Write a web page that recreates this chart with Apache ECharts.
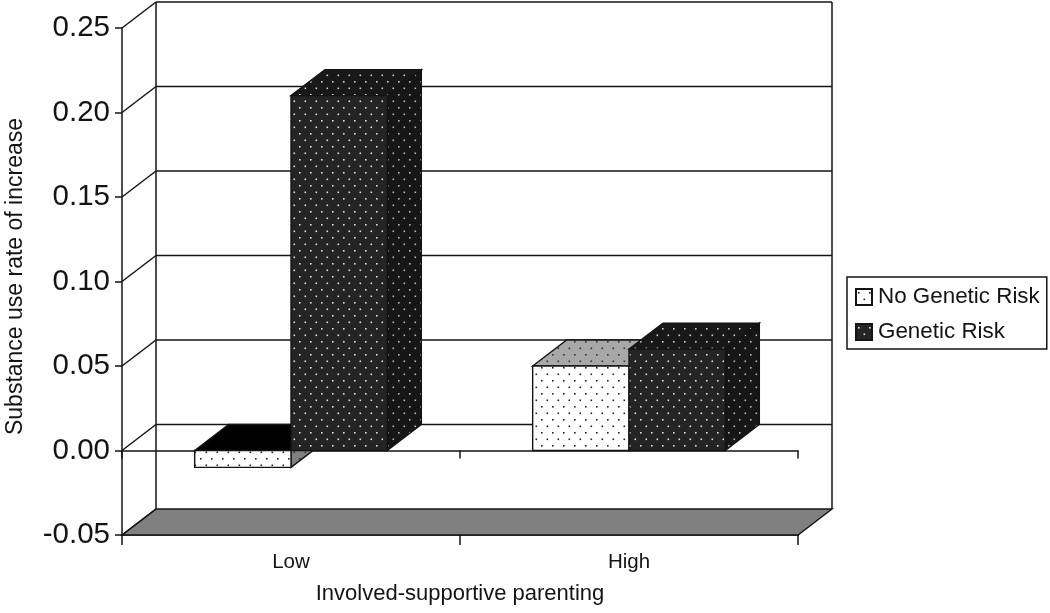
<!DOCTYPE html>
<html>
<head>
<meta charset="utf-8">
<style>html,body{margin:0;padding:0;background:#fff}#c{width:1050px;height:613px}</style>
<script src="https://cdn.jsdelivr.net/npm/echarts@6/dist/echarts.min.js"></script>
</head>
<body>
<div id="c"></div>
<script>
var categories = ['Low', 'High'];
var noGeneticRisk = [-0.01, 0.05];
var geneticRisk = [0.21, 0.06];
var yTicks = [-0.05, 0, 0.05, 0.10, 0.15, 0.20, 0.25];
var xTitle = 'Involved-supportive parenting';
var yTitle = 'Substance use rate of increase';
var FONT = '"Liberation Sans", Arial, sans-serif';
var INK = '#141414';
var DX = 34, DY = -26;

function dots(bg, dot) {
  var c = document.createElement('canvas');
  c.width = 11; c.height = 13;
  var g = c.getContext('2d');
  g.fillStyle = bg; g.fillRect(0, 0, 11, 13);
  g.fillStyle = dot;
  g.fillRect(2, 3, 1.6, 1.6);
  g.fillRect(7.5, 9.5, 1.6, 1.6);
  return { image: c, repeat: 'repeat' };
}
function poly(pts, fill, stroke) {
  return { type: 'polygon', shape: { points: pts },
    style: { fill: fill, stroke: stroke || INK, lineWidth: 1.4 } };
}
function line(x1, y1, x2, y2) {
  return { type: 'line', shape: { x1: x1, y1: y1, x2: x2, y2: y2 },
    style: { stroke: INK, lineWidth: 1.5, fill: null } };
}

var skins = {
  none: {
    front: dots('#ffffff', '#222222'),
    top: dots('#a8a8a8', '#333333'), topNeg: '#000000',
    side: dots('#808080', '#333333')
  },
  risk: {
    front: dots('#242424', '#e0e0e0'),
    top: dots('#181818', '#d0d0d0'), topNeg: '#181818',
    side: dots('#161616', '#b8b8b8')
  }
};

function barRenderer(offsetSign, skin) {
  return function (params, api) {
    var cat = api.value(0), val = api.value(1);
    var center = api.coord([cat, 0]);
    var top = api.coord([cat, val]);
    var w = api.size([1, 0])[0] * 0.285;
    var x0 = offsetSign < 0 ? center[0] - w : center[0];
    var x1 = x0 + w;
    var yZero = center[1], yVal = top[1];
    var yHi = Math.min(yZero, yVal), yLo = Math.max(yZero, yVal);
    var topFill = val < 0 ? skin.topNeg : skin.top;
    return { type: 'group', children: [
      poly([[x1, yLo], [x1 + DX, yLo + DY], [x1 + DX, yHi + DY], [x1, yHi]], skin.side),
      poly([[x0, yHi], [x0 + DX, yHi + DY], [x1 + DX, yHi + DY], [x1, yHi]], topFill),
      poly([[x0, yLo], [x1, yLo], [x1, yHi], [x0, yHi]], skin.front)
    ] };
  };
}

function wallRenderer(params, api) {
  var cs = params.coordSys;
  var left = cs.x, right = cs.x + cs.width;
  var yBottom = api.coord([0, yTicks[0]])[1];
  var yTop = api.coord([0, yTicks[yTicks.length - 1]])[1];
  var kids = [
    poly([[left, yBottom], [left + DX, yBottom + DY], [right + DX, yBottom + DY], [right, yBottom]], '#808080'),
    line(left + DX, yTop + DY, left + DX, yBottom + DY),
    line(right + DX, yTop + DY, right + DX, yBottom + DY)
  ];
  yTicks.forEach(function (t) {
    var y = api.coord([0, t])[1];
    if (t !== yTicks[0]) kids.push(line(left + DX, y + DY, right + DX, y + DY));
    kids.push(line(left, y, left + DX, y + DY));
  });
  return { type: 'group', children: kids };
}

function pairs(values) { return values.map(function (v, i) { return [i, v]; }); }

var axisLine = { lineStyle: { color: INK, width: 1.5 } };

var chart = echarts.init(document.getElementById('c'), null, { renderer: 'canvas' });
chart.setOption({
  animation: false,
  backgroundColor: '#fff',
  grid: { left: 122, right: 252, top: 28, bottom: 78, containLabel: false, outerBoundsMode: 'none' },
  legend: {
    orient: 'vertical', left: 847, top: 277,
    padding: [9, 7, 6, 8], itemGap: 13,
    itemWidth: 16, itemHeight: 16, icon: 'rect',
    borderColor: INK, borderWidth: 1.5, backgroundColor: '#fff',
    textStyle: { fontFamily: FONT, fontSize: 22.4, color: INK, padding: [0, 0, 0, 1] },
    data: ['No Genetic Risk', 'Genetic Risk']
  },
  xAxis: [
    { type: 'category', data: categories, position: 'bottom', boundaryGap: true,
      axisLine: Object.assign({ onZero: false }, axisLine),
      axisTick: { show: true, length: 10, lineStyle: { color: INK, width: 1.5 } },
      axisLabel: { fontFamily: FONT, fontSize: 20.5, color: INK, margin: 17 },
      name: xTitle, nameLocation: 'middle', nameGap: 48,
      nameTextStyle: { fontFamily: FONT, fontSize: 22, color: INK } },
    { type: 'category', data: categories, position: 'top', boundaryGap: true,
      axisLine: Object.assign({ onZero: true }, axisLine),
      axisTick: { show: true, inside: true, length: 8, lineStyle: { color: INK, width: 1.5 } },
      axisLabel: { show: false } }
  ],
  yAxis: {
    type: 'value', min: -0.05, max: 0.25, interval: 0.05,
    axisLine: Object.assign({ show: true, onZero: false }, axisLine),
    axisTick: { show: true, length: 7, lineStyle: { color: INK, width: 1.5 } },
    splitLine: { show: false },
    axisLabel: { fontFamily: FONT, fontSize: 29.5, color: INK, margin: 12,
      formatter: function (v) { return v.toFixed(2); } },
    name: yTitle, nameLocation: 'middle', nameGap: 95,
    nameTextStyle: { fontFamily: FONT, fontSize: 23, color: INK, padding: [0, 0, 0, 10] }
  },
  series: [
    { type: 'custom', name: 'walls', z: 1, clip: false, silent: true, renderItem: wallRenderer,
      data: [[0, 0]], encode: { x: 0, y: 1 } },
    { type: 'custom', name: 'No Genetic Risk', z: 3, clip: false,
      itemStyle: { color: skins.none.front, borderColor: INK, borderWidth: 1 },
      renderItem: barRenderer(-1, skins.none), data: pairs(noGeneticRisk), encode: { x: 0, y: 1 } },
    { type: 'custom', name: 'Genetic Risk', z: 4, clip: false,
      itemStyle: { color: skins.risk.front, borderColor: INK, borderWidth: 1 },
      renderItem: barRenderer(1, skins.risk), data: pairs(geneticRisk), encode: { x: 0, y: 1 } }
  ]
});
</script>
</body>
</html>
